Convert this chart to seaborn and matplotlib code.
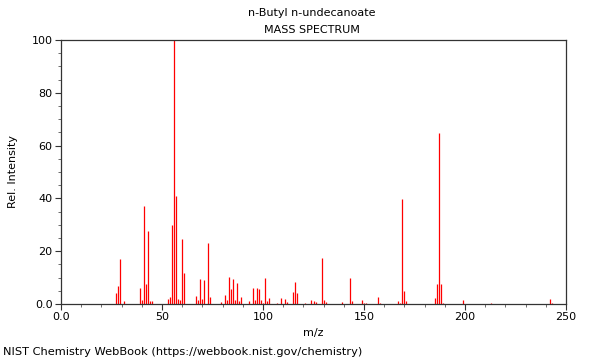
import matplotlib
matplotlib.use("Agg")
import matplotlib.pyplot as plt
import seaborn as sns
import numpy as np
from matplotlib.ticker import MultipleLocator

mz = [27, 28, 29, 31, 39, 40, 41, 42, 43, 44, 45, 53, 54, 55, 56, 57, 58, 59, 60, 61,
      67, 68, 69, 70, 71, 73, 74, 79, 81, 82, 83, 84, 85, 86, 87, 88, 89, 93, 95, 96,
      97, 98, 99, 100, 101, 102, 103, 107, 109, 111, 112, 115, 116, 117, 121, 124, 125,
      126, 129, 130, 131, 139, 143, 144, 149, 150, 151, 157, 158, 167, 168, 169, 170,
      171, 185, 186, 187, 188, 189, 199, 213, 242, 243]
intensity = [4.0, 6.8, 17.2, 1.1, 5.9, 1.5, 37.0, 7.6, 27.6, 1.0, 1.0, 2.0, 2.5, 29.8,
             100.0, 41.0, 2.0, 1.5, 24.6, 11.7, 2.9, 1.5, 9.3, 2.0, 9.2, 23.0, 2.6, 0.9,
             3.4, 1.6, 10.1, 5.8, 9.3, 1.5, 8.1, 1.3, 2.6, 1.3, 5.9, 1.6, 6.0, 5.6, 1.4,
             0.5, 10.0, 1.3, 2.1, 0.5, 2.1, 2.0, 0.8, 4.5, 8.5, 4.2, 0.5, 1.6, 1.3, 0.8,
             17.4, 1.5, 0.8, 0.8, 9.7, 1.1, 1.5, 0.5, 0.5, 2.6, 0.5, 1.1, 0.5, 39.6, 4.9,
             1.1, 2.3, 7.4, 64.8, 7.4, 0.5, 1.5, 0.5, 1.9, 0.3]

x_ticks = [0, 50, 100, 150, 200, 250]
x_tick_labels = ["0.0", "50", "100", "150", "200", "250"]
y_ticks = [0, 20, 40, 60, 80, 100]
y_tick_labels = ["0.0", "20", "40", "60", "80", "100"]

sns.set_style("ticks")
plt.rcParams['font.family'] = ['DejaVu Sans']
plt.rcParams['text.color'] = 'black'
plt.rcParams['axes.labelcolor'] = 'black'
plt.rcParams['xtick.labelcolor'] = 'black'
plt.rcParams['ytick.labelcolor'] = 'black'

fig = plt.figure(figsize=(6, 3.6), dpi=100)
ax = fig.add_axes([61/600, 1 - 304/360, (566 - 61)/600, (304 - 40)/360])

ax.vlines(mz, 0, intensity, colors="#ff0000", linewidth=0.9)

ax.set_xlim(0, 250)
ax.set_ylim(0, 100)
ax.set_xticks(x_ticks)
ax.set_xticklabels(x_tick_labels)
ax.set_yticks(y_ticks)
ax.set_yticklabels(y_tick_labels)
ax.xaxis.set_minor_locator(MultipleLocator(10))
ax.yaxis.set_minor_locator(MultipleLocator(5))
ax.tick_params(axis="both", which="major", labelsize=8, length=4, width=0.8,
               color="#333333", direction="out", pad=2, labelcolor="black")
ax.tick_params(axis="both", which="minor", length=2.5, width=0.6, color="#555555",
               direction="out")
for s in ax.spines.values():
    s.set_visible(True)
    s.set_color("#333333")
    s.set_linewidth(0.9)

ax.set_xlabel("m/z", fontsize=8, labelpad=4, color="black")
ax.set_ylabel("Rel. Intensity", fontsize=8, labelpad=10, color="black")

fig.text(0.52, 1 - 13/360, "n-Butyl n-undecanoate", ha="center", va="center",
         fontsize=8, color="black")
fig.text(0.52, 1 - 30/360, "MASS SPECTRUM", ha="center", va="center",
         fontsize=8, color="black")
fig.text(3/600, 1 - 352/360, "NIST Chemistry WebBook (https://webbook.nist.gov/chemistry)",
         ha="left", va="center", fontsize=8.2, color="black")

fig.savefig("out.png", dpi=100)
